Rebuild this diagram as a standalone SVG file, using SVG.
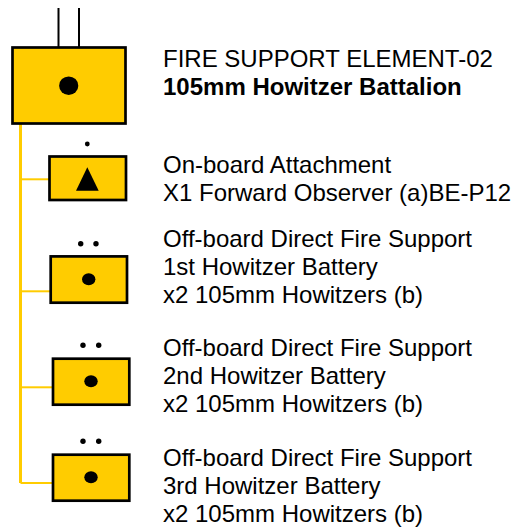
<svg xmlns="http://www.w3.org/2000/svg" width="521" height="529" viewBox="0 0 521 529">
<style>
.box{fill:#FFCC00;stroke:#000;stroke-width:2.7}
.conn{fill:none;stroke:#FFCC00}
.t{font-family:"Liberation Sans",Arial,sans-serif;font-size:24px;fill:#000}
.b{font-weight:bold}
</style>
<rect width="521" height="529" fill="#fff"/>
<g id="connectors">
<line class="conn" x1="20.5" y1="124" x2="20.5" y2="483" stroke-width="3"/>
<polyline class="conn" points="20.5,483 53,483" stroke-width="2"/>
<line class="conn" x1="22" y1="179.3" x2="49" y2="179.3" stroke-width="2"/>
<line class="conn" x1="22" y1="291.3" x2="50" y2="291.3" stroke-width="2"/>
<line class="conn" x1="22" y1="387.3" x2="53" y2="387.3" stroke-width="2"/>
</g>
<g id="fse02">
<line x1="58.5" y1="8" x2="58.5" y2="47" stroke="#000" stroke-width="2"/>
<line x1="79" y1="8" x2="79" y2="47" stroke="#000" stroke-width="2"/>
<rect class="box" x="12.5" y="47.5" width="113" height="76" stroke-width="3"/>
<ellipse cx="68.7" cy="85.7" rx="9.6" ry="9.3"/>
<text class="t" x="163" y="67.3">FIRE SUPPORT ELEMENT-02</text>
<text class="t b" x="163" y="95">105mm Howitzer Battalion</text>
</g>
<g id="attachment">
<circle cx="87.3" cy="144" r="2.4"/>
<rect class="box" x="49.5" y="156.5" width="76.5" height="43.5"/>
<polygon points="87.3,167.3 98.7,190.7 76,190.7"/>
<text class="t" x="163" y="173.3">On-board Attachment</text>
<text class="t" x="163" y="201">X1 Forward Observer (a)BE-P12</text>
</g>
<g id="battery1">
<circle cx="80.7" cy="243.7" r="2.7"/>
<circle cx="96" cy="243.7" r="2.7"/>
<rect class="box" x="50.7" y="256.4" width="76.3" height="46.3"/>
<ellipse cx="88.7" cy="279.3" rx="6.7" ry="6"/>
<text class="t" x="163" y="247">Off-board Direct Fire Support</text>
<text class="t" x="163" y="275">1st Howitzer Battery</text>
<text class="t" x="163" y="303.3">x2 105mm Howitzers (b)</text>
</g>
<g id="battery2">
<circle cx="83" cy="345.3" r="2.7"/>
<circle cx="98.7" cy="345.3" r="2.7"/>
<rect class="box" x="53" y="358.7" width="76.3" height="46"/>
<ellipse cx="91" cy="381.3" rx="6.7" ry="6"/>
<text class="t" x="163" y="356">Off-board Direct Fire Support</text>
<text class="t" x="163" y="384">2nd Howitzer Battery</text>
<text class="t" x="163" y="411.7">x2 105mm Howitzers (b)</text>
</g>
<g id="battery3">
<circle cx="83" cy="441.3" r="2.7"/>
<circle cx="98.7" cy="441.3" r="2.7"/>
<rect class="box" x="53" y="454.7" width="76.3" height="46"/>
<ellipse cx="91" cy="477.3" rx="6.7" ry="6"/>
<text class="t" x="163" y="466">Off-board Direct Fire Support</text>
<text class="t" x="163" y="494">3rd Howitzer Battery</text>
<text class="t" x="163" y="521.7">x2 105mm Howitzers (b)</text>
</g>
</svg>
